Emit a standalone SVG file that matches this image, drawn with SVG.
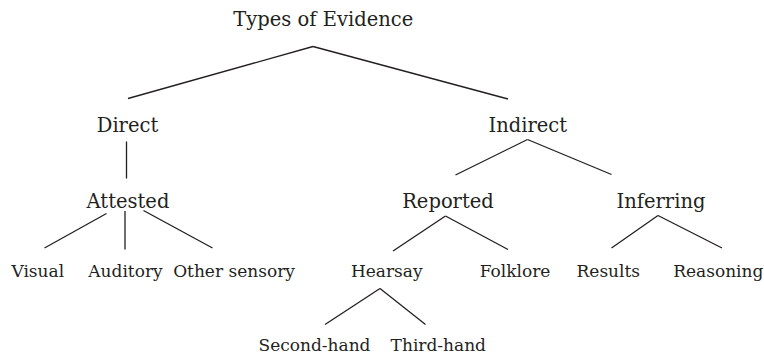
<svg xmlns="http://www.w3.org/2000/svg" width="764" height="356" viewBox="0 0 764 356">
<style>
text{font-family:'DejaVu Serif',serif;fill:#231f20;text-anchor:middle}
.l1{font-size:19.5px}
.l2{font-size:17px}
#connectors line{stroke:#231f20;stroke-width:1.3;fill:none}
</style>
<rect width="764" height="356" fill="#fff"/>
<g id="connectors">
<line x1="313" y1="46.5" x2="128" y2="98.5"/>
<line x1="313" y1="46.5" x2="508" y2="99"/>
<line x1="126.5" y1="141.5" x2="126.5" y2="178.5"/>
<line x1="527.5" y1="139.5" x2="455.5" y2="175"/>
<line x1="527.5" y1="139.5" x2="611.5" y2="174.5"/>
<line x1="106.5" y1="213.5" x2="44.5" y2="248"/>
<line x1="125" y1="211" x2="125" y2="249.5"/>
<line x1="143.5" y1="210.5" x2="212.5" y2="248"/>
<line x1="445.5" y1="216" x2="393" y2="251"/>
<line x1="445.5" y1="216" x2="508" y2="249.5"/>
<line x1="658" y1="215.5" x2="611.5" y2="248"/>
<line x1="658" y1="215.5" x2="722" y2="248"/>
<line x1="380" y1="288.5" x2="325" y2="324.5"/>
<line x1="380" y1="288.5" x2="425.5" y2="324.5"/>
</g>
<g id="nodes">
<g id="n-types"><text class="l1" x="323.3" y="26">Types of Evidence</text></g>
<g id="n-direct"><text class="l1" x="127.5" y="131.5">Direct</text></g>
<g id="n-indirect"><text class="l1" x="527.8" y="131.5">Indirect</text></g>
<g id="n-attested"><text class="l1" x="128" y="207.5">Attested</text></g>
<g id="n-reported"><text class="l1" x="448" y="207.5">Reported</text></g>
<g id="n-inferring"><text class="l1" x="661" y="207.5">Inferring</text></g>
<g id="n-visual"><text class="l2" x="37.8" y="277">Visual</text></g>
<g id="n-auditory"><text class="l2" x="125.5" y="277">Auditory</text></g>
<g id="n-other"><text class="l2" x="234" y="277">Other sensory</text></g>
<g id="n-hearsay"><text class="l2" x="386.7" y="277">Hearsay</text></g>
<g id="n-folklore"><text class="l2" x="515" y="277">Folklore</text></g>
<g id="n-results"><text class="l2" x="608.3" y="277">Results</text></g>
<g id="n-reasoning"><text class="l2" x="718.3" y="277">Reasoning</text></g>
<g id="n-second"><text class="l2" x="314.5" y="351">Second-hand</text></g>
<g id="n-third"><text class="l2" x="438.3" y="351">Third-hand</text></g>
</g>
</svg>
